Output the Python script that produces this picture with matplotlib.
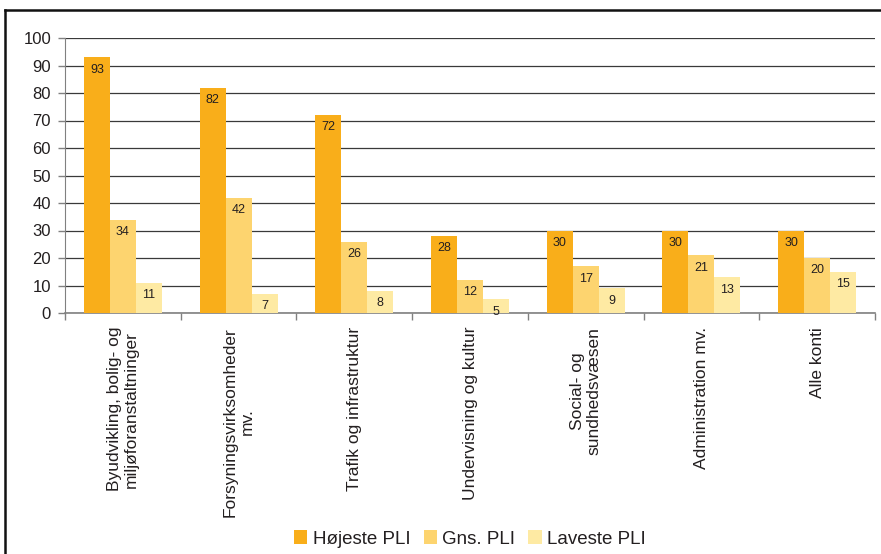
import matplotlib
matplotlib.use("Agg")
import matplotlib.pyplot as plt
from matplotlib.lines import Line2D
import numpy as np

plt.rcParams['font.family'] = ['Liberation Sans', 'DejaVu Sans']

categories = [
    "Byudvikling, bolig- og\nmiljøforanstaltninger",
    "Forsyningsvirksomheder\nmv.",
    "Trafik og infrastruktur",
    "Undervisning og kultur",
    "Social- og\nsundhedsvæsen",
    "Administration mv.",
    "Alle konti",
]
series_names = ["Højeste PLI", "Gns. PLI", "Laveste PLI"]
hoejeste = [93, 82, 72, 28, 30, 30, 30]
gns = [34, 42, 26, 12, 17, 21, 20]
laveste = [11, 7, 8, 5, 9, 13, 15]
yticks = list(range(0, 101, 10))

colors = ["#F9AE1A", "#FDD46F", "#FEEAA3"]
text_color = "#231F20"

fig = plt.figure(figsize=(8.81, 5.54), dpi=100)
W, H = 881, 554
ax = fig.add_axes([65 / W, 1 - 313 / H, (875 - 65) / W, (313 - 38) / H])

n = len(categories)
x = np.arange(n) + 0.5
bw = 0.225
for i, (vals, col, name) in enumerate(zip([hoejeste, gns, laveste], colors, series_names)):
    pos = x + (i - 1) * bw
    bars = ax.bar(pos, vals, width=bw, color=col, label=name, zorder=3)
    for b, v in zip(bars, vals):
        ax.text(b.get_x() + b.get_width() / 2, v - 2.3, str(v), ha="center", va="top",
                fontsize=9, color=text_color, zorder=4)

ax.set_xlim(0, n)
ax.set_ylim(0, 100)
ax.set_yticks(yticks)
ax.set_yticklabels([str(t) for t in yticks], fontsize=12, color=text_color)
ax.yaxis.grid(True, color="#3A3A3A", linewidth=0.9, zorder=0)
ax.set_axisbelow(True)

ax.set_xticks(np.arange(n + 1))
ax.set_xticklabels([])
ax.set_xticks(x, minor=True)
ax.set_xticklabels(categories, minor=True, rotation=90, fontsize=12.5,
                   color=text_color, ha="center", va="top", multialignment="center")
ax.tick_params(axis="x", which="minor", length=0, pad=10)
ax.tick_params(axis="x", which="major", length=5, color="#808080", width=1)
ax.tick_params(axis="y", length=5, color="#808080", width=1, pad=5)

for s in ["top", "right"]:
    ax.spines[s].set_visible(False)
ax.spines["left"].set_color("#808080")
ax.spines["bottom"].set_color("#808080")
ax.spines["bottom"].set_linewidth(1.2)

# outer frame
fig.add_artist(Line2D([5 / W, 5 / W], [0, 1 - 10 / H], color="#111111", linewidth=1.8,
                      transform=fig.transFigure))
fig.add_artist(Line2D([5 / W, 1], [1 - 10 / H, 1 - 10 / H], color="#111111", linewidth=1.8,
                      transform=fig.transFigure))

leg = fig.legend(loc="center", bbox_to_anchor=(470 / W, 1 - 539 / H), ncol=3, frameon=False,
                 fontsize=13.5, handlelength=0.7, handleheight=0.7, handletextpad=0.3,
                 columnspacing=0.7)
for t in leg.get_texts():
    t.set_color(text_color)

fig.savefig("out.png", dpi=100)
